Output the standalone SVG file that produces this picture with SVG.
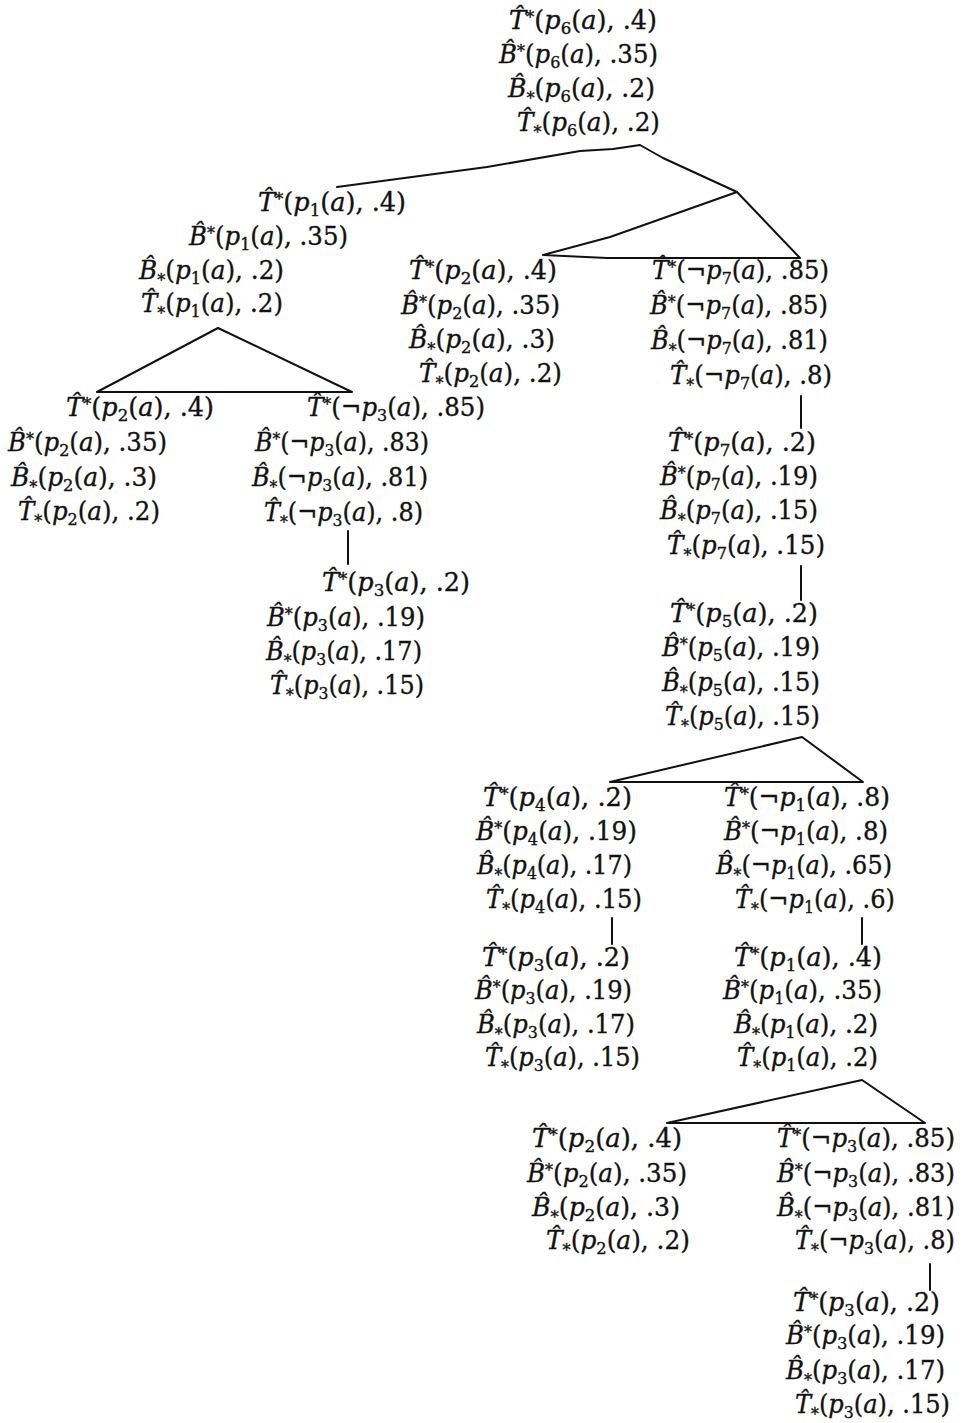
<svg xmlns="http://www.w3.org/2000/svg" width="965" height="1423" viewBox="0 0 965 1423">
<style>
text { font-family: "DejaVu Serif", "Liberation Serif", serif; font-size: 26px; fill: #111; stroke: #111; stroke-width: 0.35; }
.i { font-style: italic; }
.s { font-size: 17px; }
.c { fill: none; stroke: #111; stroke-width: 2; stroke-linejoin: round; stroke-linecap: round; }
</style>
<rect width="965" height="1423" fill="#ffffff"/>
<g id="connectors">
<path class="c" d="M337,187 L487,167 L580,151 L613,149 L640,145 L663,158 L737,192"/>
<path class="c" d="M737,192 L800,258 L607,258 L543,255 L610,237 Z"/>
<path class="c" d="M218,328 L97,392 L352,392 Z"/>
<path class="c" d="M348,531 V564"/>
<path class="c" d="M801,396 V428"/>
<path class="c" d="M801,566 V600"/>
<path class="c" d="M802,737 L610,782 L863,782 Z"/>
<path class="c" d="M612,918 V944"/>
<path class="c" d="M862,918 V944"/>
<path class="c" d="M862,1080 L667,1123 L925,1123 Z"/>
<path class="c" d="M930,1264 V1290"/>
</g>
<g id="n_p6_top">
<text x="509" y="29" textLength="148" lengthAdjust="spacingAndGlyphs"><tspan class="i">T&#x302;</tspan><tspan class="s" dy="-6">*</tspan><tspan dy="6">(</tspan><tspan class="i">p</tspan><tspan class="s" dy="5">6</tspan><tspan dy="-5">(</tspan><tspan class="i">a</tspan>), .4)</text>
<text x="499" y="63" textLength="159" lengthAdjust="spacingAndGlyphs"><tspan class="i">B&#x302;</tspan><tspan class="s" dy="-6">*</tspan><tspan dy="6">(</tspan><tspan class="i">p</tspan><tspan class="s" dy="5">6</tspan><tspan dy="-5">(</tspan><tspan class="i">a</tspan>), .35)</text>
<text x="508" y="97" textLength="147" lengthAdjust="spacingAndGlyphs"><tspan class="i">B&#x302;</tspan><tspan class="s" dy="7">*</tspan><tspan dy="-7">(</tspan><tspan class="i">p</tspan><tspan class="s" dy="5">6</tspan><tspan dy="-5">(</tspan><tspan class="i">a</tspan>), .2)</text>
<text x="517" y="131" textLength="143" lengthAdjust="spacingAndGlyphs"><tspan class="i">T&#x302;</tspan><tspan class="s" dy="7">*</tspan><tspan dy="-7">(</tspan><tspan class="i">p</tspan><tspan class="s" dy="5">6</tspan><tspan dy="-5">(</tspan><tspan class="i">a</tspan>), .2)</text>
</g>
<g id="n_p1_left">
<text x="258" y="211" textLength="148" lengthAdjust="spacingAndGlyphs"><tspan class="i">T&#x302;</tspan><tspan class="s" dy="-6">*</tspan><tspan dy="6">(</tspan><tspan class="i">p</tspan><tspan class="s" dy="5">1</tspan><tspan dy="-5">(</tspan><tspan class="i">a</tspan>), .4)</text>
<text x="189" y="245" textLength="159" lengthAdjust="spacingAndGlyphs"><tspan class="i">B&#x302;</tspan><tspan class="s" dy="-6">*</tspan><tspan dy="6">(</tspan><tspan class="i">p</tspan><tspan class="s" dy="5">1</tspan><tspan dy="-5">(</tspan><tspan class="i">a</tspan>), .35)</text>
<text x="139" y="279" textLength="145" lengthAdjust="spacingAndGlyphs"><tspan class="i">B&#x302;</tspan><tspan class="s" dy="7">*</tspan><tspan dy="-7">(</tspan><tspan class="i">p</tspan><tspan class="s" dy="5">1</tspan><tspan dy="-5">(</tspan><tspan class="i">a</tspan>), .2)</text>
<text x="141" y="312" textLength="142" lengthAdjust="spacingAndGlyphs"><tspan class="i">T&#x302;</tspan><tspan class="s" dy="7">*</tspan><tspan dy="-7">(</tspan><tspan class="i">p</tspan><tspan class="s" dy="5">1</tspan><tspan dy="-5">(</tspan><tspan class="i">a</tspan>), .2)</text>
</g>
<g id="n_p2_left">
<text x="66" y="416" textLength="148" lengthAdjust="spacingAndGlyphs"><tspan class="i">T&#x302;</tspan><tspan class="s" dy="-6">*</tspan><tspan dy="6">(</tspan><tspan class="i">p</tspan><tspan class="s" dy="5">2</tspan><tspan dy="-5">(</tspan><tspan class="i">a</tspan>), .4)</text>
<text x="8" y="451" textLength="159" lengthAdjust="spacingAndGlyphs"><tspan class="i">B&#x302;</tspan><tspan class="s" dy="-6">*</tspan><tspan dy="6">(</tspan><tspan class="i">p</tspan><tspan class="s" dy="5">2</tspan><tspan dy="-5">(</tspan><tspan class="i">a</tspan>), .35)</text>
<text x="11" y="486" textLength="146" lengthAdjust="spacingAndGlyphs"><tspan class="i">B&#x302;</tspan><tspan class="s" dy="7">*</tspan><tspan dy="-7">(</tspan><tspan class="i">p</tspan><tspan class="s" dy="5">2</tspan><tspan dy="-5">(</tspan><tspan class="i">a</tspan>), .3)</text>
<text x="18" y="520" textLength="142" lengthAdjust="spacingAndGlyphs"><tspan class="i">T&#x302;</tspan><tspan class="s" dy="7">*</tspan><tspan dy="-7">(</tspan><tspan class="i">p</tspan><tspan class="s" dy="5">2</tspan><tspan dy="-5">(</tspan><tspan class="i">a</tspan>), .2)</text>
</g>
<g id="n_np3_left">
<text x="307" y="416" textLength="178" lengthAdjust="spacingAndGlyphs"><tspan class="i">T&#x302;</tspan><tspan class="s" dy="-6">*</tspan><tspan dy="6">(¬</tspan><tspan class="i">p</tspan><tspan class="s" dy="5">3</tspan><tspan dy="-5">(</tspan><tspan class="i">a</tspan>), .85)</text>
<text x="255" y="451" textLength="174" lengthAdjust="spacingAndGlyphs"><tspan class="i">B&#x302;</tspan><tspan class="s" dy="-6">*</tspan><tspan dy="6">(¬</tspan><tspan class="i">p</tspan><tspan class="s" dy="5">3</tspan><tspan dy="-5">(</tspan><tspan class="i">a</tspan>), .83)</text>
<text x="252" y="486" textLength="176" lengthAdjust="spacingAndGlyphs"><tspan class="i">B&#x302;</tspan><tspan class="s" dy="7">*</tspan><tspan dy="-7">(¬</tspan><tspan class="i">p</tspan><tspan class="s" dy="5">3</tspan><tspan dy="-5">(</tspan><tspan class="i">a</tspan>), .81)</text>
<text x="264" y="521" textLength="159" lengthAdjust="spacingAndGlyphs"><tspan class="i">T&#x302;</tspan><tspan class="s" dy="7">*</tspan><tspan dy="-7">(¬</tspan><tspan class="i">p</tspan><tspan class="s" dy="5">3</tspan><tspan dy="-5">(</tspan><tspan class="i">a</tspan>), .8)</text>
</g>
<g id="n_p3_left">
<text x="322" y="591" textLength="148" lengthAdjust="spacingAndGlyphs"><tspan class="i">T&#x302;</tspan><tspan class="s" dy="-6">*</tspan><tspan dy="6">(</tspan><tspan class="i">p</tspan><tspan class="s" dy="5">3</tspan><tspan dy="-5">(</tspan><tspan class="i">a</tspan>), .2)</text>
<text x="267" y="626" textLength="158" lengthAdjust="spacingAndGlyphs"><tspan class="i">B&#x302;</tspan><tspan class="s" dy="-6">*</tspan><tspan dy="6">(</tspan><tspan class="i">p</tspan><tspan class="s" dy="5">3</tspan><tspan dy="-5">(</tspan><tspan class="i">a</tspan>), .19)</text>
<text x="266" y="660" textLength="156" lengthAdjust="spacingAndGlyphs"><tspan class="i">B&#x302;</tspan><tspan class="s" dy="7">*</tspan><tspan dy="-7">(</tspan><tspan class="i">p</tspan><tspan class="s" dy="5">3</tspan><tspan dy="-5">(</tspan><tspan class="i">a</tspan>), .17)</text>
<text x="270" y="694" textLength="154" lengthAdjust="spacingAndGlyphs"><tspan class="i">T&#x302;</tspan><tspan class="s" dy="7">*</tspan><tspan dy="-7">(</tspan><tspan class="i">p</tspan><tspan class="s" dy="5">3</tspan><tspan dy="-5">(</tspan><tspan class="i">a</tspan>), .15)</text>
</g>
<g id="n_p2_mid">
<text x="409" y="279" textLength="148" lengthAdjust="spacingAndGlyphs"><tspan class="i">T&#x302;</tspan><tspan class="s" dy="-6">*</tspan><tspan dy="6">(</tspan><tspan class="i">p</tspan><tspan class="s" dy="5">2</tspan><tspan dy="-5">(</tspan><tspan class="i">a</tspan>), .4)</text>
<text x="401" y="314" textLength="159" lengthAdjust="spacingAndGlyphs"><tspan class="i">B&#x302;</tspan><tspan class="s" dy="-6">*</tspan><tspan dy="6">(</tspan><tspan class="i">p</tspan><tspan class="s" dy="5">2</tspan><tspan dy="-5">(</tspan><tspan class="i">a</tspan>), .35)</text>
<text x="409" y="348" textLength="146" lengthAdjust="spacingAndGlyphs"><tspan class="i">B&#x302;</tspan><tspan class="s" dy="7">*</tspan><tspan dy="-7">(</tspan><tspan class="i">p</tspan><tspan class="s" dy="5">2</tspan><tspan dy="-5">(</tspan><tspan class="i">a</tspan>), .3)</text>
<text x="419" y="382" textLength="143" lengthAdjust="spacingAndGlyphs"><tspan class="i">T&#x302;</tspan><tspan class="s" dy="7">*</tspan><tspan dy="-7">(</tspan><tspan class="i">p</tspan><tspan class="s" dy="5">2</tspan><tspan dy="-5">(</tspan><tspan class="i">a</tspan>), .2)</text>
</g>
<g id="n_np7">
<text x="652" y="279" textLength="177" lengthAdjust="spacingAndGlyphs"><tspan class="i">T&#x302;</tspan><tspan class="s" dy="-6">*</tspan><tspan dy="6">(¬</tspan><tspan class="i">p</tspan><tspan class="s" dy="5">7</tspan><tspan dy="-5">(</tspan><tspan class="i">a</tspan>), .85)</text>
<text x="650" y="314" textLength="178" lengthAdjust="spacingAndGlyphs"><tspan class="i">B&#x302;</tspan><tspan class="s" dy="-6">*</tspan><tspan dy="6">(¬</tspan><tspan class="i">p</tspan><tspan class="s" dy="5">7</tspan><tspan dy="-5">(</tspan><tspan class="i">a</tspan>), .85)</text>
<text x="651" y="349" textLength="177" lengthAdjust="spacingAndGlyphs"><tspan class="i">B&#x302;</tspan><tspan class="s" dy="7">*</tspan><tspan dy="-7">(¬</tspan><tspan class="i">p</tspan><tspan class="s" dy="5">7</tspan><tspan dy="-5">(</tspan><tspan class="i">a</tspan>), .81)</text>
<text x="670" y="384" textLength="162" lengthAdjust="spacingAndGlyphs"><tspan class="i">T&#x302;</tspan><tspan class="s" dy="7">*</tspan><tspan dy="-7">(¬</tspan><tspan class="i">p</tspan><tspan class="s" dy="5">7</tspan><tspan dy="-5">(</tspan><tspan class="i">a</tspan>), .8)</text>
</g>
<g id="n_p7">
<text x="668" y="451" textLength="148" lengthAdjust="spacingAndGlyphs"><tspan class="i">T&#x302;</tspan><tspan class="s" dy="-6">*</tspan><tspan dy="6">(</tspan><tspan class="i">p</tspan><tspan class="s" dy="5">7</tspan><tspan dy="-5">(</tspan><tspan class="i">a</tspan>), .2)</text>
<text x="660" y="485" textLength="158" lengthAdjust="spacingAndGlyphs"><tspan class="i">B&#x302;</tspan><tspan class="s" dy="-6">*</tspan><tspan dy="6">(</tspan><tspan class="i">p</tspan><tspan class="s" dy="5">7</tspan><tspan dy="-5">(</tspan><tspan class="i">a</tspan>), .19)</text>
<text x="660" y="519" textLength="158" lengthAdjust="spacingAndGlyphs"><tspan class="i">B&#x302;</tspan><tspan class="s" dy="7">*</tspan><tspan dy="-7">(</tspan><tspan class="i">p</tspan><tspan class="s" dy="5">7</tspan><tspan dy="-5">(</tspan><tspan class="i">a</tspan>), .15)</text>
<text x="667" y="554" textLength="158" lengthAdjust="spacingAndGlyphs"><tspan class="i">T&#x302;</tspan><tspan class="s" dy="7">*</tspan><tspan dy="-7">(</tspan><tspan class="i">p</tspan><tspan class="s" dy="5">7</tspan><tspan dy="-5">(</tspan><tspan class="i">a</tspan>), .15)</text>
</g>
<g id="n_p5">
<text x="670" y="622" textLength="148" lengthAdjust="spacingAndGlyphs"><tspan class="i">T&#x302;</tspan><tspan class="s" dy="-6">*</tspan><tspan dy="6">(</tspan><tspan class="i">p</tspan><tspan class="s" dy="5">5</tspan><tspan dy="-5">(</tspan><tspan class="i">a</tspan>), .2)</text>
<text x="662" y="656" textLength="158" lengthAdjust="spacingAndGlyphs"><tspan class="i">B&#x302;</tspan><tspan class="s" dy="-6">*</tspan><tspan dy="6">(</tspan><tspan class="i">p</tspan><tspan class="s" dy="5">5</tspan><tspan dy="-5">(</tspan><tspan class="i">a</tspan>), .19)</text>
<text x="662" y="691" textLength="158" lengthAdjust="spacingAndGlyphs"><tspan class="i">B&#x302;</tspan><tspan class="s" dy="7">*</tspan><tspan dy="-7">(</tspan><tspan class="i">p</tspan><tspan class="s" dy="5">5</tspan><tspan dy="-5">(</tspan><tspan class="i">a</tspan>), .15)</text>
<text x="665" y="725" textLength="155" lengthAdjust="spacingAndGlyphs"><tspan class="i">T&#x302;</tspan><tspan class="s" dy="7">*</tspan><tspan dy="-7">(</tspan><tspan class="i">p</tspan><tspan class="s" dy="5">5</tspan><tspan dy="-5">(</tspan><tspan class="i">a</tspan>), .15)</text>
</g>
<g id="n_p4">
<text x="483" y="806" textLength="149" lengthAdjust="spacingAndGlyphs"><tspan class="i">T&#x302;</tspan><tspan class="s" dy="-6">*</tspan><tspan dy="6">(</tspan><tspan class="i">p</tspan><tspan class="s" dy="5">4</tspan><tspan dy="-5">(</tspan><tspan class="i">a</tspan>), .2)</text>
<text x="476" y="840" textLength="161" lengthAdjust="spacingAndGlyphs"><tspan class="i">B&#x302;</tspan><tspan class="s" dy="-6">*</tspan><tspan dy="6">(</tspan><tspan class="i">p</tspan><tspan class="s" dy="5">4</tspan><tspan dy="-5">(</tspan><tspan class="i">a</tspan>), .19)</text>
<text x="477" y="874" textLength="155" lengthAdjust="spacingAndGlyphs"><tspan class="i">B&#x302;</tspan><tspan class="s" dy="7">*</tspan><tspan dy="-7">(</tspan><tspan class="i">p</tspan><tspan class="s" dy="5">4</tspan><tspan dy="-5">(</tspan><tspan class="i">a</tspan>), .17)</text>
<text x="486" y="908" textLength="156" lengthAdjust="spacingAndGlyphs"><tspan class="i">T&#x302;</tspan><tspan class="s" dy="7">*</tspan><tspan dy="-7">(</tspan><tspan class="i">p</tspan><tspan class="s" dy="5">4</tspan><tspan dy="-5">(</tspan><tspan class="i">a</tspan>), .15)</text>
</g>
<g id="n_p3_mid">
<text x="482" y="966" textLength="148" lengthAdjust="spacingAndGlyphs"><tspan class="i">T&#x302;</tspan><tspan class="s" dy="-6">*</tspan><tspan dy="6">(</tspan><tspan class="i">p</tspan><tspan class="s" dy="5">3</tspan><tspan dy="-5">(</tspan><tspan class="i">a</tspan>), .2)</text>
<text x="475" y="999" textLength="157" lengthAdjust="spacingAndGlyphs"><tspan class="i">B&#x302;</tspan><tspan class="s" dy="-6">*</tspan><tspan dy="6">(</tspan><tspan class="i">p</tspan><tspan class="s" dy="5">3</tspan><tspan dy="-5">(</tspan><tspan class="i">a</tspan>), .19)</text>
<text x="477" y="1033" textLength="158" lengthAdjust="spacingAndGlyphs"><tspan class="i">B&#x302;</tspan><tspan class="s" dy="7">*</tspan><tspan dy="-7">(</tspan><tspan class="i">p</tspan><tspan class="s" dy="5">3</tspan><tspan dy="-5">(</tspan><tspan class="i">a</tspan>), .17)</text>
<text x="485" y="1066" textLength="155" lengthAdjust="spacingAndGlyphs"><tspan class="i">T&#x302;</tspan><tspan class="s" dy="7">*</tspan><tspan dy="-7">(</tspan><tspan class="i">p</tspan><tspan class="s" dy="5">3</tspan><tspan dy="-5">(</tspan><tspan class="i">a</tspan>), .15)</text>
</g>
<g id="n_np1">
<text x="724" y="806" textLength="166" lengthAdjust="spacingAndGlyphs"><tspan class="i">T&#x302;</tspan><tspan class="s" dy="-6">*</tspan><tspan dy="6">(¬</tspan><tspan class="i">p</tspan><tspan class="s" dy="5">1</tspan><tspan dy="-5">(</tspan><tspan class="i">a</tspan>), .8)</text>
<text x="724" y="840" textLength="164" lengthAdjust="spacingAndGlyphs"><tspan class="i">B&#x302;</tspan><tspan class="s" dy="-6">*</tspan><tspan dy="6">(¬</tspan><tspan class="i">p</tspan><tspan class="s" dy="5">1</tspan><tspan dy="-5">(</tspan><tspan class="i">a</tspan>), .8)</text>
<text x="716" y="874" textLength="176" lengthAdjust="spacingAndGlyphs"><tspan class="i">B&#x302;</tspan><tspan class="s" dy="7">*</tspan><tspan dy="-7">(¬</tspan><tspan class="i">p</tspan><tspan class="s" dy="5">1</tspan><tspan dy="-5">(</tspan><tspan class="i">a</tspan>), .65)</text>
<text x="735" y="908" textLength="160" lengthAdjust="spacingAndGlyphs"><tspan class="i">T&#x302;</tspan><tspan class="s" dy="7">*</tspan><tspan dy="-7">(¬</tspan><tspan class="i">p</tspan><tspan class="s" dy="5">1</tspan><tspan dy="-5">(</tspan><tspan class="i">a</tspan>), .6)</text>
</g>
<g id="n_p1_low">
<text x="734" y="966" textLength="148" lengthAdjust="spacingAndGlyphs"><tspan class="i">T&#x302;</tspan><tspan class="s" dy="-6">*</tspan><tspan dy="6">(</tspan><tspan class="i">p</tspan><tspan class="s" dy="5">1</tspan><tspan dy="-5">(</tspan><tspan class="i">a</tspan>), .4)</text>
<text x="723" y="999" textLength="159" lengthAdjust="spacingAndGlyphs"><tspan class="i">B&#x302;</tspan><tspan class="s" dy="-6">*</tspan><tspan dy="6">(</tspan><tspan class="i">p</tspan><tspan class="s" dy="5">1</tspan><tspan dy="-5">(</tspan><tspan class="i">a</tspan>), .35)</text>
<text x="734" y="1033" textLength="144" lengthAdjust="spacingAndGlyphs"><tspan class="i">B&#x302;</tspan><tspan class="s" dy="7">*</tspan><tspan dy="-7">(</tspan><tspan class="i">p</tspan><tspan class="s" dy="5">1</tspan><tspan dy="-5">(</tspan><tspan class="i">a</tspan>), .2)</text>
<text x="737" y="1066" textLength="141" lengthAdjust="spacingAndGlyphs"><tspan class="i">T&#x302;</tspan><tspan class="s" dy="7">*</tspan><tspan dy="-7">(</tspan><tspan class="i">p</tspan><tspan class="s" dy="5">1</tspan><tspan dy="-5">(</tspan><tspan class="i">a</tspan>), .2)</text>
</g>
<g id="n_p2_low">
<text x="532" y="1147" textLength="150" lengthAdjust="spacingAndGlyphs"><tspan class="i">T&#x302;</tspan><tspan class="s" dy="-6">*</tspan><tspan dy="6">(</tspan><tspan class="i">p</tspan><tspan class="s" dy="5">2</tspan><tspan dy="-5">(</tspan><tspan class="i">a</tspan>), .4)</text>
<text x="527" y="1182" textLength="160" lengthAdjust="spacingAndGlyphs"><tspan class="i">B&#x302;</tspan><tspan class="s" dy="-6">*</tspan><tspan dy="6">(</tspan><tspan class="i">p</tspan><tspan class="s" dy="5">2</tspan><tspan dy="-5">(</tspan><tspan class="i">a</tspan>), .35)</text>
<text x="532" y="1216" textLength="148" lengthAdjust="spacingAndGlyphs"><tspan class="i">B&#x302;</tspan><tspan class="s" dy="7">*</tspan><tspan dy="-7">(</tspan><tspan class="i">p</tspan><tspan class="s" dy="5">2</tspan><tspan dy="-5">(</tspan><tspan class="i">a</tspan>), .3)</text>
<text x="546" y="1249" textLength="144" lengthAdjust="spacingAndGlyphs"><tspan class="i">T&#x302;</tspan><tspan class="s" dy="7">*</tspan><tspan dy="-7">(</tspan><tspan class="i">p</tspan><tspan class="s" dy="5">2</tspan><tspan dy="-5">(</tspan><tspan class="i">a</tspan>), .2)</text>
</g>
<g id="n_np3_low">
<text x="777" y="1147" textLength="178" lengthAdjust="spacingAndGlyphs"><tspan class="i">T&#x302;</tspan><tspan class="s" dy="-6">*</tspan><tspan dy="6">(¬</tspan><tspan class="i">p</tspan><tspan class="s" dy="5">3</tspan><tspan dy="-5">(</tspan><tspan class="i">a</tspan>), .85)</text>
<text x="777" y="1182" textLength="178" lengthAdjust="spacingAndGlyphs"><tspan class="i">B&#x302;</tspan><tspan class="s" dy="-6">*</tspan><tspan dy="6">(¬</tspan><tspan class="i">p</tspan><tspan class="s" dy="5">3</tspan><tspan dy="-5">(</tspan><tspan class="i">a</tspan>), .83)</text>
<text x="777" y="1216" textLength="178" lengthAdjust="spacingAndGlyphs"><tspan class="i">B&#x302;</tspan><tspan class="s" dy="7">*</tspan><tspan dy="-7">(¬</tspan><tspan class="i">p</tspan><tspan class="s" dy="5">3</tspan><tspan dy="-5">(</tspan><tspan class="i">a</tspan>), .81)</text>
<text x="795" y="1249" textLength="160" lengthAdjust="spacingAndGlyphs"><tspan class="i">T&#x302;</tspan><tspan class="s" dy="7">*</tspan><tspan dy="-7">(¬</tspan><tspan class="i">p</tspan><tspan class="s" dy="5">3</tspan><tspan dy="-5">(</tspan><tspan class="i">a</tspan>), .8)</text>
</g>
<g id="n_p3_bottom">
<text x="793" y="1311" textLength="147" lengthAdjust="spacingAndGlyphs"><tspan class="i">T&#x302;</tspan><tspan class="s" dy="-6">*</tspan><tspan dy="6">(</tspan><tspan class="i">p</tspan><tspan class="s" dy="5">3</tspan><tspan dy="-5">(</tspan><tspan class="i">a</tspan>), .2)</text>
<text x="786" y="1344" textLength="159" lengthAdjust="spacingAndGlyphs"><tspan class="i">B&#x302;</tspan><tspan class="s" dy="-6">*</tspan><tspan dy="6">(</tspan><tspan class="i">p</tspan><tspan class="s" dy="5">3</tspan><tspan dy="-5">(</tspan><tspan class="i">a</tspan>), .19)</text>
<text x="786" y="1379" textLength="159" lengthAdjust="spacingAndGlyphs"><tspan class="i">B&#x302;</tspan><tspan class="s" dy="7">*</tspan><tspan dy="-7">(</tspan><tspan class="i">p</tspan><tspan class="s" dy="5">3</tspan><tspan dy="-5">(</tspan><tspan class="i">a</tspan>), .17)</text>
<text x="795" y="1413" textLength="155" lengthAdjust="spacingAndGlyphs"><tspan class="i">T&#x302;</tspan><tspan class="s" dy="7">*</tspan><tspan dy="-7">(</tspan><tspan class="i">p</tspan><tspan class="s" dy="5">3</tspan><tspan dy="-5">(</tspan><tspan class="i">a</tspan>), .15)</text>
</g>
</svg>
